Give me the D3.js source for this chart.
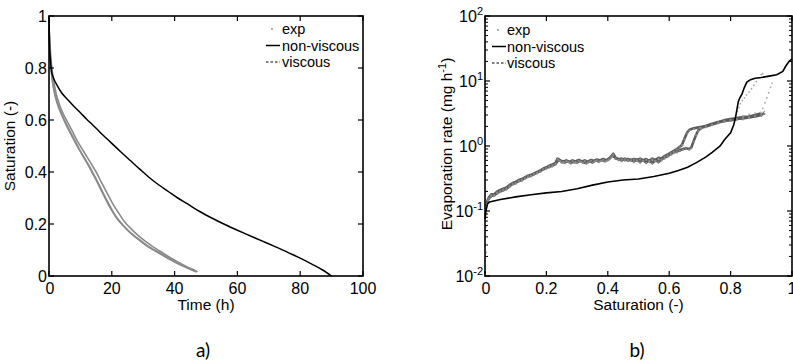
<!DOCTYPE html>
<html><head><meta charset="utf-8">
<script src="https://cdn.jsdelivr.net/npm/d3@7"></script>
<style>
body{margin:0;background:#fff}
svg{display:block}
text{font-family:"Liberation Sans",Arial,sans-serif;fill:#000}
</style>
</head><body>
<svg id="c" width="793" height="361"></svg>
<script>
// ---------- data ----------
const timeTicks = [0, 20, 40, 60, 80, 100];
const satTicksA = [0, 0.2, 0.4, 0.6, 0.8, 1];
const satTicksB = [0, 0.2, 0.4, 0.6, 0.8, 1];
const rateExps = [2, 1, 0, -1, -2];
const legendLabels = ["exp", "non-viscous", "viscous"];
const panelLabels = ["a)", "b)"];

// panel a: saturation vs time (h)
const nonViscousA = [[0,1],[0.15,0.9],[0.4,0.84],[0.85,0.785],[1.5,0.76],[2.5,0.735],[4,0.705],[6,0.678],[8,0.652],[10,0.628],[12,0.603],[14,0.58],[16,0.556],[18,0.533],[20,0.51],[23,0.476],[26,0.443],[29,0.41],[32,0.378],[35,0.35],[38,0.325],[41,0.3],[44,0.278],[48,0.248],[52,0.222],[56,0.198],[60,0.176],[64,0.155],[68,0.134],[72,0.113],[76,0.091],[80,0.069],[84,0.044],[87,0.024],[90,0]];
const expA1 = [[0,0.95],[0.3,0.87],[0.7,0.8],[1.3,0.74],[2,0.695],[3,0.655],[4,0.625],[5.5,0.585],[7,0.55],[8.5,0.515],[10,0.48],[11.5,0.45],[13,0.42],[14.5,0.385],[16,0.35],[17.5,0.313],[19,0.278],[20.5,0.245],[22,0.218],[24,0.19],[26,0.165],[28,0.145],[31,0.117],[34,0.095],[37,0.074],[40,0.054],[43,0.036],[46,0.02],[47,0.015]];
const expA2 = [[0,0.96],[0.3,0.89],[0.8,0.81],[1.5,0.75],[2.3,0.70],[3.3,0.66],[4.5,0.625],[6,0.59],[7.5,0.555],[9,0.52],[10.5,0.49],[12,0.46],[13.5,0.43],[15,0.4],[16.5,0.365],[18,0.33],[19.5,0.296],[21,0.264],[22.5,0.236],[24,0.21],[26,0.183],[28,0.16],[30,0.14],[32.5,0.118],[35,0.098],[38,0.075],[41,0.054],[44,0.035],[46.5,0.021],[47.3,0.016]];
const expA3 = [[0,0.94],[0.3,0.86],[0.7,0.79],[1.2,0.74],[2,0.69],[3,0.65],[4,0.62],[5.5,0.58],[7,0.545],[8.5,0.51],[10,0.478],[11.5,0.447],[13,0.415],[14.5,0.38],[16,0.345],[17.5,0.308],[19,0.273],[20.5,0.242],[22,0.215],[24,0.189],[26,0.166],[28,0.147],[31,0.12],[34,0.097],[37,0.076],[40,0.056],[43,0.038],[46,0.022],[46.8,0.017]];

// panel b: evaporation rate (mg/h) vs saturation
const nonViscousB = [[0,0.075],[0.003,0.1],[0.008,0.128],[0.015,0.138],[0.05,0.15],[0.1,0.165],[0.15,0.178],[0.2,0.19],[0.25,0.2],[0.3,0.22],[0.35,0.25],[0.4,0.28],[0.45,0.3],[0.5,0.31],[0.55,0.34],[0.6,0.38],[0.63,0.42],[0.66,0.47],[0.69,0.56],[0.72,0.68],[0.74,0.8],[0.766,1.0],[0.78,1.25],[0.8,1.6],[0.81,2.1],[0.815,2.6],[0.82,3.5],[0.825,4.8],[0.83,5.5],[0.837,6.3],[0.845,8],[0.853,9.6],[0.865,10.5],[0.88,11],[0.9,11.3],[0.93,12],[0.95,12.5],[0.97,14],[0.98,17],[0.99,20],[1.0,22]];
const expB1 = [[0.004,0.12],[0.01,0.15],[0.02,0.17],[0.03,0.175],[0.04,0.19],[0.05,0.2],[0.06,0.21],[0.07,0.22],[0.08,0.24],[0.09,0.26],[0.1,0.27],[0.11,0.29],[0.12,0.3],[0.13,0.32],[0.14,0.34],[0.15,0.35],[0.16,0.37],[0.17,0.39],[0.18,0.41],[0.19,0.44],[0.2,0.46],[0.21,0.48],[0.22,0.5],[0.23,0.53],[0.24,0.62],[0.25,0.57],[0.26,0.56],[0.27,0.58],[0.28,0.55],[0.29,0.57],[0.3,0.56],[0.31,0.59],[0.32,0.56],[0.33,0.55],[0.34,0.58],[0.35,0.56],[0.36,0.6],[0.37,0.58],[0.38,0.61],[0.39,0.59],[0.4,0.62],[0.41,0.68],[0.418,0.76],[0.425,0.66],[0.435,0.62],[0.445,0.64],[0.455,0.61],[0.465,0.63],[0.475,0.6],[0.485,0.63],[0.495,0.61],[0.505,0.64],[0.515,0.6],[0.525,0.63],[0.535,0.59],[0.545,0.64],[0.555,0.61],[0.565,0.66],[0.575,0.64],[0.585,0.7],[0.595,0.74],[0.605,0.79],[0.615,0.84],[0.625,0.9],[0.635,0.97],[0.642,1.05],[0.65,1.3],[0.658,1.6],[0.666,1.78],[0.68,1.88],[0.7,1.95],[0.72,2.05],[0.74,2.2],[0.76,2.35],[0.78,2.5],[0.8,2.6],[0.82,2.7],[0.84,2.78],[0.86,2.85],[0.88,3.0],[0.9,3.2]];
const expB2 = [[0.005,0.13],[0.012,0.16],[0.02,0.18],[0.03,0.18],[0.04,0.2],[0.05,0.21],[0.06,0.22],[0.07,0.23],[0.08,0.25],[0.09,0.27],[0.1,0.28],[0.11,0.3],[0.12,0.31],[0.13,0.33],[0.14,0.35],[0.15,0.36],[0.16,0.38],[0.17,0.4],[0.18,0.42],[0.19,0.45],[0.2,0.47],[0.21,0.5],[0.22,0.52],[0.23,0.55],[0.236,0.64],[0.245,0.6],[0.255,0.58],[0.265,0.6],[0.275,0.57],[0.285,0.6],[0.295,0.58],[0.305,0.61],[0.315,0.58],[0.325,0.6],[0.335,0.57],[0.345,0.61],[0.355,0.59],[0.365,0.62],[0.375,0.6],[0.385,0.63],[0.395,0.6],[0.405,0.64],[0.415,0.72],[0.425,0.65],[0.435,0.63],[0.445,0.6],[0.455,0.64],[0.465,0.6],[0.475,0.62],[0.485,0.58],[0.495,0.62],[0.505,0.57],[0.515,0.61],[0.525,0.56],[0.535,0.6],[0.545,0.55],[0.555,0.6],[0.565,0.57],[0.575,0.62],[0.585,0.66],[0.595,0.7],[0.605,0.75],[0.615,0.8],[0.625,0.82],[0.635,0.86],[0.645,0.9],[0.655,0.92],[0.665,0.9],[0.672,0.95],[0.68,1.2],[0.688,1.5],[0.695,1.75],[0.705,1.9],[0.72,2.0],[0.74,2.15],[0.76,2.3],[0.78,2.42],[0.8,2.5],[0.82,2.6],[0.84,2.65],[0.86,2.75],[0.88,2.85],[0.9,3.0],[0.91,3.2]];
const expBSparse = [[0.003,0.2],[0.003,0.09],[0.004,0.057],[0.004,0.023],[0.002,0.11],[0.822,3.4],[0.827,3.9],[0.832,4.5],[0.838,5.0],[0.845,5.5],[0.852,6.1],[0.86,6.8],[0.868,7.6],[0.876,8.6],[0.884,9.8],[0.892,11.2],[0.9,12.5],[0.905,13],[0.898,3.3],[0.905,3.8],[0.912,4.6],[0.918,5.5],[0.924,6.6],[0.93,8.0],[0.935,9.3],[0.84,2.9],[0.86,3.1],[0.88,3.2],[0.91,3.4]];

// ---------- drawing ----------
const svg = d3.select("#c");
const TICK = 5, MINOR = 3;

function frame(g, x0, x1, y0, y1) {
  g.append("rect").attr("x", x0).attr("y", y0).attr("width", x1 - x0).attr("height", y1 - y0)
    .attr("fill", "none").attr("stroke", "#000").attr("stroke-width", 1.6);
}

// ===== Panel a =====
const xA = d3.scaleLinear().domain([0, 100]).range([49, 363]);
const yA = d3.scaleLinear().domain([0, 1]).range([276, 16]);
const gA = svg.append("g");
const lineA = d3.line().x(d => xA(d[0])).y(d => yA(d[1])).curve(d3.curveMonotoneX);

[expA1, expA2, expA3].forEach(s => gA.append("path").attr("d", lineA(s))
  .attr("fill", "none").attr("stroke", "#8a8a8a").attr("stroke-width", 1.6));
gA.append("path").attr("d", lineA(nonViscousA))
  .attr("fill", "none").attr("stroke", "#000").attr("stroke-width", 1.5);

frame(gA, xA.range()[0], xA.range()[1], yA.range()[1], yA.range()[0]);
timeTicks.forEach(t => {
  gA.append("line").attr("x1", xA(t)).attr("x2", xA(t)).attr("y1", 276).attr("y2", 276 - TICK).attr("stroke", "#000").attr("stroke-width", 1.2);
  gA.append("line").attr("x1", xA(t)).attr("x2", xA(t)).attr("y1", 16).attr("y2", 16 + TICK).attr("stroke", "#000").attr("stroke-width", 1.2);
  gA.append("text").attr("x", xA(t) + (t === 0 ? 1 : 0)).attr("y", 294).attr("text-anchor", "middle").attr("font-size", 16).text(d3.format("~g")(t));
});
satTicksA.forEach(s => {
  gA.append("line").attr("x1", 49).attr("x2", 49 + TICK).attr("y1", yA(s)).attr("y2", yA(s)).attr("stroke", "#000").attr("stroke-width", 1.2);
  gA.append("line").attr("x1", 363).attr("x2", 363 - TICK).attr("y1", yA(s)).attr("y2", yA(s)).attr("stroke", "#000").attr("stroke-width", 1.2);
  gA.append("text").attr("x", 47).attr("y", yA(s) + 6).attr("text-anchor", "end").attr("font-size", 16).text(d3.format("~g")(s));
});
gA.append("text").attr("x", xA(50)).attr("y", 310).attr("text-anchor", "middle").attr("font-size", 15.5).text("Time (h)");
gA.append("text").attr("transform", `translate(15,${yA(0.5)}) rotate(-90)`).attr("text-anchor", "middle").attr("font-size", 15.5).text("Saturation (-)");

// ===== Panel b =====
const xB = d3.scaleLinear().domain([0, 1]).range([485, 792]);
const yB = d3.scaleLog().domain([0.01, 100]).range([276, 16]);
const gB = svg.append("g");
const lineB = d3.line().x(d => xB(d[0])).y(d => yB(d[1]));

[expB1, expB2].forEach(s => gB.append("path").attr("d", lineB(s))
  .attr("fill", "none").attr("stroke", "#5c5c5c").attr("stroke-width", 2.6).attr("stroke-linejoin", "round"));
[expB1, expB2].forEach(s => gB.selectAll(null).data(s).enter().append("circle")
  .attr("cx", d => xB(d[0])).attr("cy", d => yB(d[1]) + 0.8).attr("r", 1.1).attr("fill", "#8a8a8a"));
gB.selectAll(null).data(expBSparse).enter().append("circle")
  .attr("cx", d => xB(d[0])).attr("cy", d => yB(d[1])).attr("r", 0.9).attr("fill", "#a8a8a8");
gB.append("path").attr("d", lineB(nonViscousB)).attr("fill", "none").attr("stroke", "#000").attr("stroke-width", 1.6);

frame(gB, xB.range()[0], xB.range()[1], yB.range()[1], yB.range()[0]);
satTicksB.forEach(s => {
  gB.append("line").attr("x1", xB(s)).attr("x2", xB(s)).attr("y1", 276).attr("y2", 276 - TICK).attr("stroke", "#000").attr("stroke-width", 1.2);
  gB.append("line").attr("x1", xB(s)).attr("x2", xB(s)).attr("y1", 16).attr("y2", 16 + TICK).attr("stroke", "#000").attr("stroke-width", 1.2);
  gB.append("text").attr("x", xB(s) + (s === 0 ? 1 : 0)).attr("y", 294).attr("text-anchor", "middle").attr("font-size", 16).text(d3.format("~g")(s));
});
rateExps.forEach(e => {
  const v = Math.pow(10, e), y = yB(v);
  gB.append("line").attr("x1", 485).attr("x2", 485 + TICK).attr("y1", y).attr("y2", y).attr("stroke", "#000").attr("stroke-width", 1.2);
  gB.append("line").attr("x1", 792).attr("x2", 792 - TICK).attr("y1", y).attr("y2", y).attr("stroke", "#000").attr("stroke-width", 1.2);
  if (e < 2) for (let m = 2; m <= 9; m++) {
    const ym = yB(m * v);
    gB.append("line").attr("x1", 485).attr("x2", 485 + MINOR).attr("y1", ym).attr("y2", ym).attr("stroke", "#000").attr("stroke-width", 1);
    gB.append("line").attr("x1", 792).attr("x2", 792 - MINOR).attr("y1", ym).attr("y2", ym).attr("stroke", "#000").attr("stroke-width", 1);
  }
  const t = gB.append("text").attr("x", 483).attr("y", y + 6).attr("text-anchor", "end").attr("font-size", 16);
  t.append("tspan").text("10");
  t.append("tspan").attr("dy", -7).attr("font-size", 11).text(String(e));
});
gB.append("text").attr("x", xB(0.5)).attr("y", 310).attr("text-anchor", "middle").attr("font-size", 15.5).text("Saturation (-)");
const yl = gB.append("text").attr("transform", `translate(452,${yB(1) - 2}) rotate(-90)`).attr("text-anchor", "middle").attr("font-size", 15.5);
yl.append("tspan").text("Evaporation rate (mg h");
yl.append("tspan").attr("dy", -6).attr("font-size", 11).text("-1");
yl.append("tspan").attr("dy", 6).text(")");

// ===== legends =====
function legend(g, lx, textX, y0) {
  const dy = 16.5;
  g.append("circle").attr("cx", lx + 6).attr("cy", y0).attr("r", 0.9).attr("fill", "#888");
  g.append("line").attr("x1", lx).attr("x2", lx + 14).attr("y1", y0 + dy).attr("y2", y0 + dy).attr("stroke", "#000").attr("stroke-width", 1.5);
  g.append("line").attr("x1", lx).attr("x2", lx + 14).attr("y1", y0 + 2 * dy).attr("y2", y0 + 2 * dy).attr("stroke", "#000").attr("stroke-width", 1.2).attr("stroke-dasharray", "2.5,2");
  legendLabels.forEach((l, i) => g.append("text").attr("x", textX).attr("y", y0 + i * dy + 5).attr("font-size", 14.5).text(l));
}
legend(gA, 266, 282, 29);
legend(gB, 492, 507, 30);

// panel labels
svg.append("text").attr("x", 203).attr("y", 357).attr("text-anchor", "middle").attr("font-size", 19)
  .style("font-family", "Lato, 'Open Sans', sans-serif").text(panelLabels[0]);
svg.append("text").attr("x", 637).attr("y", 357).attr("text-anchor", "middle").attr("font-size", 19)
  .style("font-family", "Lato, 'Open Sans', sans-serif").text(panelLabels[1]);
</script>
</body></html>
